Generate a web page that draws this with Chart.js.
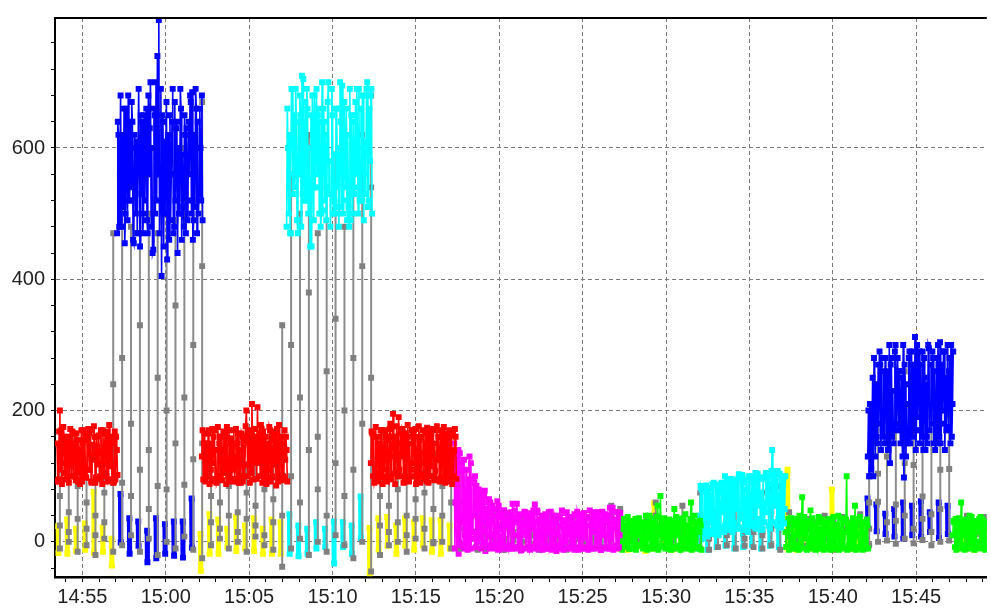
<!DOCTYPE html>
<html>
<head>
<meta charset="utf-8">
<script src="https://cdn.jsdelivr.net/npm/chart.js@4"></script>
<style>
html,body{margin:0;padding:0;background:#fff;}
canvas{display:block;}
</style>
</head>
<body>
<canvas id="c" width="991" height="608"></canvas>
<script>
// ---------- data (time = seconds after 14:53:00) ----------
// each segment of the main trace: samples "a" every STEP seconds, samples "b" half a step later
const STEP = 5;
const segmentStarts = [29, 245, 550, 855, 1158, 1458, 2050, 2342, 2650, 2946, 3252];
const segmentColors = ['#ff0000','#0000ff','#ff0000','#00ffff','#ff0000','#ff00ff','#00ff00','#00ffff','#00ff00','#0000ff','#00ff00'];
const lowerColors   = ['#ffff00','#0000ff','#ffff00','#00ffff','#ffff00','#ff00ff','#ffff00','#00ffff','#ffff00','#0000ff','#ffff00'];

const red1 = [150, 95, 200, 170, 120, 160, 95, 140, 160, 100, 130, 168, 100, 150, 165, 92, 140, 120, 92, 170, 155, 98, 110, 165, 170, 90, 125, 160, 98, 145, 162, 100, 135, 170, 105, 150, 168, 95, 115, 160, 150, 92, 95, 140];
const red1b = [92, 168, 110, 88, 175, 105, 158, 96, 90, 172, 100, 125, 165, 94, 108, 155, 88, 170, 150, 104, 98, 162, 172, 110, 92, 148, 176, 90, 160, 118, 96, 170, 88, 120, 165, 100, 92, 178, 152, 95, 90, 168, 160, 102];
const blue1 = [470, 620, 560, 480, 620, 660, 500, 590, 680, 520, 540, 640, 455, 600, 610, 470, 580, 650, 640, 500, 520, 660, 470, 560, 700, 600, 445, 650, 700, 740, 795, 560, 405, 640, 610, 500, 430, 620, 650, 560, 690, 480, 520, 640, 600, 500, 660, 590, 480, 620, 630, 520, 560, 670, 685, 490, 510, 660, 640, 530, 600, 680];
const blue1b = [640, 480, 680, 600, 510, 455, 660, 490, 520, 640, 670, 460, 620, 500, 470, 690, 450, 530, 470, 650, 610, 490, 680, 630, 480, 440, 660, 500, 520, 560, 470, 690, 650, 450, 500, 670, 620, 460, 490, 640, 470, 670, 630, 440, 500, 690, 460, 510, 650, 470, 490, 640, 680, 500, 460, 620, 690, 470, 500, 660, 520, 490];
const red2 = [130, 95, 165, 150, 100, 170, 150, 92, 120, 170, 140, 95, 98, 160, 160, 105, 112, 165, 175, 100, 95, 150, 145, 170, 130, 92, 165, 140, 90, 160, 155, 118, 200, 100, 150, 170, 210, 95, 120, 160, 205, 130, 100, 172, 168, 95, 135, 150, 95, 170, 160, 100, 118, 165, 172, 92, 102, 160, 150, 98, 125, 140];
const red2b = [170, 150, 92, 100, 165, 88, 110, 172, 160, 96, 90, 175, 150, 100, 94, 168, 160, 88, 105, 170, 158, 92, 110, 96, 172, 150, 90, 100, 165, 92, 100, 176, 160, 168, 90, 105, 150, 172, 160, 96, 120, 165, 178, 90, 104, 160, 88, 110, 175, 92, 98, 168, 155, 86, 110, 178, 150, 94, 100, 170, 160, 92];
const cyan1 = [480, 600, 620, 470, 690, 560, 540, 640, 470, 560, 650, 710, 705, 520, 520, 660, 600, 450, 450, 620, 680, 540, 560, 660, 640, 500, 505, 640, 620, 540, 700, 580, 530, 650, 590, 500, 660, 600, 510, 640, 695, 520, 570, 660, 620, 480, 490, 650, 640, 540, 560, 600, 690, 520, 520, 680, 610, 560, 700, 520, 580, 690];
const cyan1b = [660, 500, 470, 690, 530, 650, 690, 490, 640, 680, 480, 530, 560, 670, 690, 500, 520, 650, 680, 490, 540, 690, 650, 500, 480, 700, 660, 520, 490, 670, 530, 480, 690, 500, 520, 660, 540, 480, 700, 510, 500, 670, 540, 490, 510, 690, 650, 500, 530, 670, 690, 500, 520, 660, 680, 490, 530, 690, 510, 660, 680, 500];
const red3 = [120, 165, 160, 95, 98, 150, 145, 170, 170, 100, 110, 160, 155, 95, 180, 130, 195, 160, 105, 150, 190, 100, 130, 168, 165, 92, 95, 160, 150, 110, 120, 170, 172, 95, 100, 155, 160, 120, 135, 165, 92, 140, 168, 100, 115, 170, 150, 95, 125, 160, 170, 98, 98, 150, 158, 165, 110, 92, 165, 140, 140, 160];
const red3b = [168, 100, 90, 175, 160, 92, 105, 98, 88, 170, 165, 92, 100, 172, 96, 160, 104, 88, 176, 100, 110, 165, 172, 90, 98, 160, 178, 92, 100, 170, 165, 100, 88, 160, 176, 90, 102, 170, 96, 110, 174, 90, 100, 165, 172, 94, 108, 176, 160, 92, 98, 168, 175, 90, 104, 96, 170, 162, 88, 100, 172, 96];
const magenta1 = [150, 60, 20, 140, 135, 30, 110, 125, -10, 80, 95, 130, 120, 15, 40, 100, 85, 60, 5, 78, 70, 30, 78, 50, 10, 65, 60, -5, 50, 40, -5, 62, 55, 20, 45, 0, 48, 30, 35, -10, 20, 45, 58, 10, 30, 58, -8, 35, 40, 15, 25, 45, 10, 42, 38, -8, 20, 48, 57, 10, 45, 30, 5, 40, 30, -10, 35, 15, 45, -5, 28, 5, 40, 30, 12, 38, 25, -8, 33, 20, 0, 45, 22, 10, 38, 30, 18, -10, 10, 40, 30, 5, 42, 25, 5, 38, 25, -5, 35, 20, 15, 45, 28, 0, 45, 35, 20, 10, 38, 42, 10, 30, 52, 5, 52, 20, 30, 45, 45, 10];
const magenta1b = [-10, 140, 130, 0, -5, 120, -8, 10, 110, -5, 0, -10, 5, 95, 90, -8, 0, 80, 70, -10, -5, 70, 0, -8, 60, -10, -5, 55, -8, -10, 50, -12, -10, 38, -8, 48, -10, 32, -5, 44, 30, -10, -8, 48, 36, -10, 42, -8, -12, 28, 46, -10, 35, -8, -12, 44, 30, -10, -5, 48, -10, -8, 34, -12, 0, 42, -8, 30, -10, 46, -12, 36, -8, -5, 40, -10, -5, 48, -12, 30, 44, -10, 36, -8, -10, -5, 42, 28, 46, -12, -8, 34, -10, 44, 38, -8, -12, 48, -10, 32, 42, -10, -5, 36, -8, -12, 46, 30, -10, -8, 40, -8, -10, 48, -12, 34, -5, -10, -8, 44];
const green1 = [20, -8, 30, 10, -8, 25, 5, 30, -10, 25, -10, 20, 35, -5, 10, 30, -5, 25, 28, -8, 15, 30, 40, -10, -8, 30, 22, 0, 55, 10, 70, -8, 5, 30, 30, -5, -10, 25, 20, -8, 50, 10, 12, 35, 35, -8, -5, 25, 42, 0, 25, -10, 60, 20, 0, 30, 30, -8, 15, 25];
const green1b = [-8, 28, -12, 35, 22, -5, 38, -10, 25, 0, 32, -8, -12, 26, 36, -6, 30, -10, -4, 40, -12, 5, -8, 28, 34, -10, -2, 38, -12, 24, -6, 30, 36, -10, -4, 26, 34, -12, -8, 32, -10, 38, 24, -6, -12, 30, 36, -8, -10, 22, -6, 34, -12, -2, 40, -10, -8, 28, 32, -12];
const cyan2 = [40, 80, 85, 10, 20, 75, 70, 30, 55, 88, 90, 20, 30, 80, 75, 15, 45, 85, 100, 30, 60, 95, 25, 70, 85, 20, 50, 95, 103, 40, 35, 90, 80, 25, 65, 100, 95, 30, 40, 98, 105, 35, 55, 96, 75, 20, 98, 60, 45, 100, 88, 30, 140, 55, 60, 108, 108, 40, 70, 100, 95, 50];
const cyan2b = [85, 10, 5, 78, 86, 8, 15, 82, 12, 18, 20, 88, 84, 10, 22, 90, 80, 15, 25, 92, 18, 28, 96, 15, 30, 88, 94, 20, 22, 98, 102, 18, 28, 94, 15, 25, 30, 100, 92, 22, 20, 104, 96, 28, 18, 98, 30, 105, 95, 25, 20, 108, 30, 100, 96, 25, 35, 104, 22, 30, 28, 100];
const green2 = [15, -8, 35, 20, -5, 30, 25, -10, 10, 35, 40, 0, 68, 10, 5, 30, 30, -5, 48, 15, -8, 25, 22, -10, 38, 20, 0, 30, 28, -8, 15, 35, 35, -5, -10, 22, 25, 5, 40, 20, 10, -8, 30, 15, 100, 25, 20, -5, -5, 30, 55, 10, 35, -8, 12, 30, 28, -10, -8, 25];
const green2b = [-8, 30, -12, -4, 36, -10, -6, 26, 34, -12, -4, 28, -10, 38, 24, -12, -6, 32, -10, 36, 26, -12, -4, 30, -10, -6, 34, -12, -8, 28, -10, -4, -12, 32, 38, -6, -10, 26, -12, -4, 36, 30, -10, 34, -12, -6, -10, 28, 36, -8, -12, 32, -10, 38, -6, -12, -4, 30, 34, -10];
const blue2 = [130, 100, 210, 160, 100, 200, 240, 150, 180, 270, 280, 160, 150, 250, 260, 140, 120, 280, 230, 170, 300, 180, 170, 260, 250, 130, 98, 240, 210, 150, 290, 200, 160, 260, 312, 170, 190, 290, 270, 160, 140, 250, 240, 150, 295, 210, 180, 280, 260, 160, 150, 270, 304, 180, 200, 290, 250, 170, 175, 280, 300, 210];
const blue2b = [200, 210, 110, 250, 280, 130, 160, 270, 290, 140, 170, 260, 280, 150, 140, 300, 270, 160, 150, 290, 180, 280, 260, 150, 170, 300, 270, 130, 160, 280, 150, 290, 270, 170, 140, 300, 260, 150, 170, 290, 280, 140, 160, 300, 170, 270, 290, 150, 140, 280, 300, 160, 150, 270, 290, 140, 170, 300, 260, 150, 160, 290];
const green3 = [10, 30, 35, -8, -8, 25, 60, 10, 25, -5, 5, 30, 40, -5, -5, 25, 30, 0, 15, 35, 38, -8, 0, 30, 28, 10];
const green3b = [32, -8, -12, 28, 36, -10, -6, 30, -12, 34, 26, -8, -10, 38, 30, -12, -6, 32, 28, -10, -8, 34, 30, -12, -6, 28];
const segmentValues  = [red1, blue1, red2, cyan1, red3, magenta1, green1, cyan2, green2, blue2, green3];
const segmentValuesB = [red1b, blue1b, red2b, cyan1b, red3b, magenta1b, green1b, cyan2b, green2b, blue2b, green3b];

// gray switching trace and low-level trace, one entry per cycle
const CYCLE_START = 39, CYCLE_PERIOD = 32;
const grayTop = [140, 120, 155, 110, 135, 95, 470,
  520, 480, 560, 500, 470, 540, 490, 600, 520,
  670, 120, 140, 105, 150, 115, 130, 100, 145, 330,
  560, 500, 620, 470, 540, 590, 480, 530, 620,
  680, 130, 110, 150, 120, 140, 105, 135, 125, 150,
  110, 80, 60, 50, 45, 40, 38, 35, 40, 30, 42, 35, 28, 40, 32, 36, 45, 55,
  50, 30, 25, 35, 60, 28, 30, 55, 35,
  75, 60, 80, 70, 85, 65, 90, 75, 80, 85,
  45, 30, 35, 28, 40, 32, 38, 30, 42,
  100, 240, 200, 180, 260, 170, 220, 190, 240, 280,
  35, 40, 28, 38];
const grayMidA = [70, 45, 85, 60, 40, 75, 240,
  280, 180, 330, 140, 250, 200, 360, 220, 300,
  420, 70, 60, 85, 45, 75, 55, 80, 65, 150,
  300, 220, 380, 160, 260, 340, 200, 280, 420,
  540, 70, 55, 80, 40, 65, 75, 50, 85, 100,
  60, 40, 30, 25, 20, 22, 15, 18, 25, 20, 15, 22, 12, 20, 18, 20, 30, 40,
  30, 15, 10, 20, 40, 12, 15, 35, 20,
  40, 30, 45, 35, 50, 16, 40, 16, 45, 66,
  25, 15, 20, 12, 22, 18, 20, 15, 25,
  60, 104, 130, 57, 120, 117, 69, 42, 110, 194,
  15, 20, 12, 18];
const grayMidB = [25, 15, 35, 20, 10, 30, 90,
  90, 70, 110, 50, 85, 80, 150, 87, 126,
  150, 30, 20, 40, 15, 35, 25, 10, 30, 40,
  100, 60, 140, 80, 40, 120, 70, 110, 180,
  250, 25, 15, 30, 10, 35, 20, 0, 40, 60,
  20, 10, 5, 8, 0, 5, 2, 0, 10, 5, 0, 8, 0, 5, 2, 6, 10, 20,
  10, 5, 0, 8, 20, 5, 3, 15, 8,
  15, 5, 20, 10, 25, 5, 15, 10, 20, 30,
  8, 2, 5, 0, 6, 4, 5, 2, 8,
  20, 61, 30, 32, 40, 20, 35, 15, 50, 111,
  5, 5, 0, 6];
const grayLow = [-10, 0, -15, -5, -20, 5, -15,
  -5, 10, -15, 5, -20, 0, -10, 8, -12,
  -25, -5, 5, -10, 0, -15, 8, -5, -12, -38,
  -10, 5, -20, 0, -15, 10, -5, -25, 0,
  -45, -20, -5, 0, -15, 5, -10, -2, 0, -10,
  -10, -8, -12, -10, -5, -12, -8, -10, -5, -12, -10, -8, -12, -10, -6, -10, -8, -5,
  -8, -10, -5, -10, -8, -6, -10, -8, -5,
  -10, -12, -8, -5, -10, -6, -8, -10, -5, -12,
  -8, -10, -6, -10, -8, -12, -6, -10, -8,
  -5, 0, 2, -3, 5, -2, 3, -5, 0, 2,
  -8, -10, -6, -10];
const lowerTop = [24, 34, 20, 28, 76, 22, 5,
  73, 36, 31, 17, 36, 27, 31, 31, 66,
  12, 42, 34, 20, 38, 25, 36, 20, 34, 30,
  42, 25, 20, 30, 20, 31, 30, 25, 69,
  21, 36, 38, 25, 36, 30, 36, 33, 33, 25,
  20, 15, 10, 18, 12, 8, 15, 10, 14, 12, 9, 16, 10, 12, 8, 15, 10, 18,
  20, 15, 25, 18, 59, 22, 15, 20, 25,
  20, 15, 10, 25, 18, 12, 20, 15, 22, 18,
  110, 20, 15, 25, 18, 80, 20, 15, 22,
  66, 57, 43, 50, 60, 55, 62, 45, 60, 55,
  15, 20, 12, 18];
const lowerBottom = [-17, -18, -14, -12, -17, -15, -36,
  -1, -18, -6, -31, -25, -18, -21, -24, -9,
  -44, -18, -18, -8, -14, -10, -14, -18, -18, -18,
  -18, -22, -18, -10, -8, -33, -8, -18, 6,
  -48, -12, -6, -18, -6, -12, -6, -15, -18, -10,
  -18, -12, -10, -14, -8, -12, -10, -13, -8, -12, -10, -14, -9, -12, -10, -8, -12, -10,
  -10, -12, -8, -14, -10, -8, -12, -10, -8,
  -10, -12, -8, -6, -10, -8, -5, -10, -6, -8,
  -10, -12, -8, -10, -6, -12, -8, -10, -8,
  21, 16, 12, 8, 5, 10, 8, 15, 6, 12,
  -10, -8, -12, -6];

// axes
const xTickLabels = ['14:55','15:00','15:05','15:10','15:15','15:20','15:25','15:30','15:35','15:40','15:45'];
const yTickLabels = [0, 200, 400, 600];
const X_MIN = 21.5, X_MAX = 3374.3, Y_MIN = -53.5, Y_MAX = 798;

// ---------- build ----------
const labelToSec = l => { const [h, m] = l.split(':').map(Number); return (h * 60 + m - (14 * 60 + 53)) * 60; };
const majorX = xTickLabels.map(labelToSec);
const xTicks = []; for (let m = 1; m * 60 <= X_MAX; m++) xTicks.push(m * 60);
const yTicks = []; for (let v = -40; v <= Y_MAX; v += 40) yTicks.push(v);
const segIndexAt = t => { let i = 0; for (let j = 0; j < segmentStarts.length; j++) if (segmentStarts[j] <= t) i = j; return i; };

const datasets = [];
segmentValues.forEach((vals, i) => {
  const pts = [];
  vals.forEach((v, j) => {
    const t = segmentStarts[i] + j * STEP;
    pts.push({ x: t, y: v }, { x: t + STEP / 2, y: segmentValuesB[i][j] });
  });
  datasets.push({
    data: pts,
    borderColor: segmentColors[i], backgroundColor: segmentColors[i],
    pointBackgroundColor: segmentColors[i], pointBorderColor: segmentColors[i],
    borderWidth: 1.6, pointStyle: 'rect', pointRadius: 4.2, pointBorderWidth: 0,
    order: 1
  });
});
const grayData = [];
grayTop.forEach((v, k) => {
  const t = CYCLE_START + k * CYCLE_PERIOD;
  grayData.push({ x: t, y: v }, { x: t, y: grayMidA[k] }, { x: t, y: grayMidB[k] }, { x: t, y: grayLow[k] }, { x: t + 0.5, y: null });
});
datasets.push({
  data: grayData, borderColor: '#8c8c8c', backgroundColor: '#808080',
  pointBackgroundColor: '#808080', borderWidth: 2, pointStyle: 'rect', pointRadius: 4.2, pointBorderWidth: 0,
  spanGaps: false, order: 2
});
const lowerData = [], lowerPointColors = [];
lowerTop.forEach((v, k) => {
  const t = CYCLE_START + k * CYCLE_PERIOD;
  const c = lowerColors[segIndexAt(t)];
  lowerData.push({ x: t - 6, y: v }, { x: t - 5, y: lowerBottom[k] }, { x: t - 4, y: null });
  lowerPointColors.push(c, c, c);
});
datasets.push({
  data: lowerData, borderColor: '#ffff00',
  segment: { borderColor: ctx => lowerPointColors[ctx.p0DataIndex] },
  pointBackgroundColor: lowerPointColors, pointBorderColor: lowerPointColors,
  borderWidth: 5, pointStyle: 'rect', pointRadius: 4.2, pointBorderWidth: 0,
  spanGaps: false, order: 3
});

const FONT = { family: '"Liberation Sans", Arial, sans-serif', size: 20 };
const frame = {
  id: 'frame',
  afterDraw(chart) {
    const { ctx, chartArea: a } = chart;
    ctx.save(); ctx.strokeStyle = '#000'; ctx.lineWidth = 2;
    ctx.beginPath(); ctx.moveTo(a.left - 1, a.top); ctx.lineTo(a.right, a.top); ctx.stroke();
    ctx.restore();
  }
};

new Chart(document.getElementById('c'), {
  type: 'line',
  data: { datasets },
  plugins: [frame],
  options: {
    responsive: false, animation: false, devicePixelRatio: 1,
    layout: { padding: { top: 9, right: 0, left: 0, bottom: 0 } },
    plugins: { legend: { display: false }, tooltip: { enabled: false } },
    elements: { line: { tension: 0 } },
    scales: {
      x: {
        type: 'linear', min: X_MIN, max: X_MAX,
        afterBuildTicks: s => { s.ticks = xTicks.map(v => ({ value: v })); },
        afterFit: s => { s.height = 31; },
        ticks: {
          autoSkip: false, maxRotation: 0, minRotation: 0, padding: 3, color: '#222', font: FONT,
          callback: v => { const i = majorX.indexOf(v); return i >= 0 ? xTickLabels[i] : ''; }
        },
        grid: {
          color: c => (c.tick && majorX.includes(c.tick.value)) ? '#7a7a7a' : 'rgba(0,0,0,0)',
          lineWidth: 1, tickColor: '#000', tickLength: 5, drawTicks: true
        },
        border: { display: true, color: '#000', width: 2.5, dash: [4, 3] }
      },
      y: {
        type: 'linear', min: Y_MIN, max: Y_MAX,
        afterBuildTicks: s => { s.ticks = yTicks.map(v => ({ value: v })); },
        afterFit: s => { s.width = 55; },
        ticks: {
          autoSkip: false, padding: 6, color: '#222', font: FONT,
          callback: v => yTickLabels.includes(v) ? String(v) : ''
        },
        grid: {
          color: c => (c.tick && yTickLabels.includes(c.tick.value)) ? '#7a7a7a' : 'rgba(0,0,0,0)',
          lineWidth: 1, tickColor: '#000', tickLength: 4, drawTicks: true
        },
        border: { display: true, color: '#000', width: 2, dash: [4, 3] }
      }
    }
  }
});
</script>
</body>
</html>
